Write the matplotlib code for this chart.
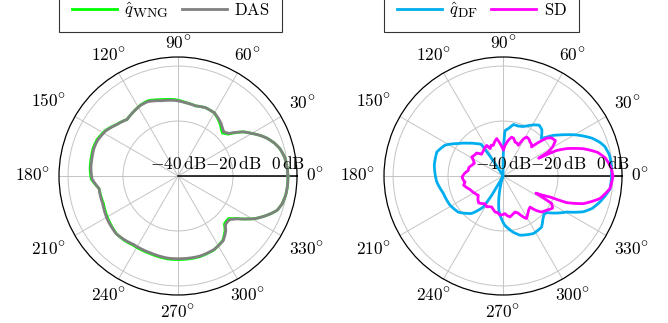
import numpy as np
import matplotlib
matplotlib.use('Agg')
import matplotlib.pyplot as plt
import matplotlib._mathtext as mt

plt.rcParams['mathtext.fontset'] = 'cm'
plt.rcParams['font.family'] = ['DejaVu Serif']
mt.SHRINK_FACTOR = 0.82  # pgfplots' sub/superscripts look larger than mathtext's default

# beam patterns, angle in degrees, level in dB
das_ang = [0, 5, 10, 15, 19, 23, 26, 30, 34, 37, 40, 44, 48, 51, 54, 60, 68, 76, 84, 92, 102, 112,
           118, 125, 132, 140, 148, 156, 162, 167, 175, 182, 189, 200, 212, 223, 230, 237, 250,
           263, 273, 285, 296, 305, 311, 314, 317, 320, 324, 328, 331, 335, 338, 341, 345, 350,
           355, 360]
das_db = [0, -0.2, -0.6, -1.6, -3.0, -4.8, -6.5, -9.0, -11.3, -13.6, -15.9, -16.9, -16.0, -15.2,
          -14.6, -13.5, -13.2, -13.7, -13.2, -12.5, -12.0, -10.8, -10.9, -11.6, -12.3, -10.9, -9.0,
          -8.0, -7.8, -8.0, -8.2, -8.7, -10.9, -10.8, -9.8, -9.2, -9.7, -10.3, -10.3, -9.9, -9.9,
          -9.8, -10.2, -11.3, -13.5, -15.2, -15.5, -15.4, -13.5, -10.5, -8.0, -5.4, -3.5, -1.8,
          -0.8, -0.2, 0, 0]
wng_ang = das_ang
wng_db = [0, -0.2, -0.6, -1.6, -3.0, -4.8, -6.5, -9.0, -11.3, -13.8, -16.3, -17.5, -16.6, -15.6,
          -14.9, -13.5, -13.2, -13.7, -13.1, -12.2, -11.6, -10.5, -10.8, -11.6, -12.3, -10.8, -8.8,
          -7.7, -7.5, -7.7, -7.9, -8.4, -10.9, -11.1, -10.1, -9.3, -9.5, -10.0, -10.0, -9.6, -9.6,
          -9.6, -10.1, -11.5, -13.9, -15.7, -16.0, -15.9, -13.7, -10.5, -8.0, -5.4, -3.5, -1.8,
          -0.8, -0.2, 0, 0]

df_ang = [0, 6, 11, 16, 19, 23, 26.5, 30, 33, 36, 39, 42, 44.5, 47, 50, 54.5, 59, 64, 68, 73, 78.5,
          83, 87.5, 89, 90, 121, 123, 124.5, 130, 137, 144, 152, 160, 171, 185, 196, 209, 219, 230,
          237.5, 239.5, 241, 252, 256, 260, 263, 266, 272, 280, 286, 298, 307, 313, 317, 320, 325,
          330.5, 336, 340, 345, 353, 360]
df_db = [-0.5, -0.4, -0.5, -1.4, -2.6, -4.8, -7.4, -10.0, -12.4, -14.6, -16.5, -19.0, -20.5, -19.3,
         -18.0, -17.3, -18.3, -19.7, -20.6, -21.0, -20.9, -22.5, -23.5, -30, -40, -40, -33, -26,
         -24.6, -22.5, -19.9, -16.1, -14.4, -14.7, -15.8, -17.4, -18.0, -19.1, -22.2, -26.6, -31.9,
         -40, -40, -36, -31, -27.5, -25.5, -22.1, -19.3, -17.6, -16.3, -16.7, -18.7, -19.6, -19.3,
         -16.5, -13.4, -8.0, -5.5, -3.5, -0.8, -0.5]

sd_ang = [0, 5, 10, 14, 18.8, 21, 23.3, 25.5, 26.5, 28, 30.5, 34, 38, 41, 44, 45.5, 48, 51.5, 55,
          58.7, 61, 63.5, 67, 70.6, 74, 77.4, 81.6, 86, 89, 92, 95, 99.6, 103, 107.5, 111, 115, 118,
          123, 128, 134.5, 138.8, 143, 148.7, 152, 156, 161, 166, 171, 176, 181.4, 186, 189, 193,
          197, 202, 210, 218, 223, 228, 232, 237, 242, 246, 250, 254, 257.5, 262, 265.6, 270, 273,
          276, 279.7, 284, 288.4, 292, 296.3, 299, 303, 307, 311, 314, 317, 322, 327, 330.5, 332.5,
          335.9, 337.3, 341, 346.9, 353.3, 360]
sd_db = [0, -0.7, -2.2, -4.5, -9.2, -12, -14.8, -18.5, -25.5, -21.5, -19, -17, -17.5, -19, -23,
         -25.2, -24.5, -24.2, -23.6, -23.4, -24.5, -27.5, -27, -26.9, -25.8, -25.5, -26.9, -28.8,
         -30.6, -29.5, -28.2, -26.2, -27, -28.3, -28, -29, -27.4, -27.8, -28.4, -28.9, -27.3, -27.2,
         -26.7, -27.8, -28.6, -28, -27.2, -27.2, -26, -25.1, -25.5, -26, -25.3, -26, -27, -27.8,
         -28.6, -27.5, -26.8, -27.3, -28, -27.3, -27.8, -28, -27.3, -26.6, -26.5, -25.7, -26, -26.3,
         -25.5, -24.9, -25.6, -26.2, -25.5, -23.4, -22.3, -23.5, -24.5, -25, -22.5, -20.8, -19.8,
         -18.5, -19.6, -26.5, -21.3, -14.9, -9.1, -3.8, -0.8, 0]

r_min, r_max = -40, 3.3
r_ticks = [-40, -20, 0]
r_labels = [r'$-40\,\mathrm{dB}$', r'$-20\,\mathrm{dB}$', r'$0\,\mathrm{dB}$']
theta_ticks = list(range(0, 360, 30))

fig = plt.figure(figsize=(6.68, 3.23), dpi=100)
W, H = 668.0, 323.0
R = 119.0
ax1 = fig.add_axes([59 / W, 28 / H, 2 * R / W, 2 * R / H], projection='polar')
ax2 = fig.add_axes([384 / W, 28 / H, 2 * R / W, 2 * R / H], projection='polar')


def style(ax):
    ax.set_ylim(r_min, r_max)
    ax.set_yticks(r_ticks)
    ax.set_yticklabels([])
    ax.set_xticks(np.deg2rad(theta_ticks))
    ax.set_xticklabels([])
    ax.tick_params(length=0)
    ax.grid(True, color='#c4c4c4', lw=0.7)
    ax.spines['polar'].set_color('black')
    ax.spines['polar'].set_linewidth(0.9)
    ax.axvline(0, color='black', lw=1.1, zorder=3)
    for r, lab in zip(r_ticks, r_labels):
        ax.annotate(lab, (0, r), xytext=(0, 2.5), textcoords='offset points',
                    ha='center', va='bottom', fontsize=12.5, zorder=5)
    texts = []
    for d in theta_ticks:
        t = ax.text(0.5, 0.5, r'$%d^{\circ}$' % d, transform=ax.transAxes,
                    ha='center', va='center', fontsize=12.5)
        texts.append((d, t))
    return texts


lab1 = style(ax1)
lab2 = style(ax2)

lines = []
lines += ax1.plot(np.deg2rad(wng_ang), wng_db, color='#00ff00', lw=2.0, label=r'$\hat{q}_{\mathrm{WNG}}$', zorder=4)
lines += ax1.plot(np.deg2rad(das_ang), das_db, color='#808080', lw=2.0, label=r'$\mathrm{DAS}$', zorder=4)
lines += ax2.plot(np.deg2rad(df_ang), df_db, color='#00aeef', lw=2.0, label=r'$\hat{q}_{\mathrm{DF}}$', zorder=4)
lines += ax2.plot(np.deg2rad(sd_ang), sd_db, color='#ff00ff', lw=2.0, label=r'$\mathrm{SD}$', zorder=4)
for ln in lines:
    ln.set_solid_joinstyle('round')
    ln.get_path()._interpolation_steps = 8

for ax in (ax1, ax2):
    leg = ax.legend(loc='lower left', bbox_to_anchor=(0, 1.105), ncol=2, fontsize=12,
                    frameon=True, fancybox=False, borderaxespad=0, handlelength=2.7,
                    columnspacing=0.8, handletextpad=0.45, borderpad=0.75)
    leg.get_frame().set_edgecolor('black')
    leg.get_frame().set_linewidth(0.8)

# put angle labels outside the circle, anchored like pgfplots
fig.canvas.draw()
rend = fig.canvas.get_renderer()
for labs in (lab1, lab2):
    for d, t in labs:
        bb = t.get_window_extent(rend)
        w, h = bb.width, bb.height
        th = np.deg2rad(d)
        c, s = np.cos(th), np.sin(th)
        ex = (w / 2 + 4) / abs(c) if abs(c) > 1e-6 else 1e9
        ey = (h / 2 + 4) / abs(s) if abs(s) > 1e-6 else 1e9
        dist = R + 5 + min(ex, ey)
        if s > 0.9:
            dist -= 5
        t.set_position((0.5 + dist * c / (2 * R), 0.5 + dist * s / (2 * R)))

fig.savefig('out.png', dpi=100)
